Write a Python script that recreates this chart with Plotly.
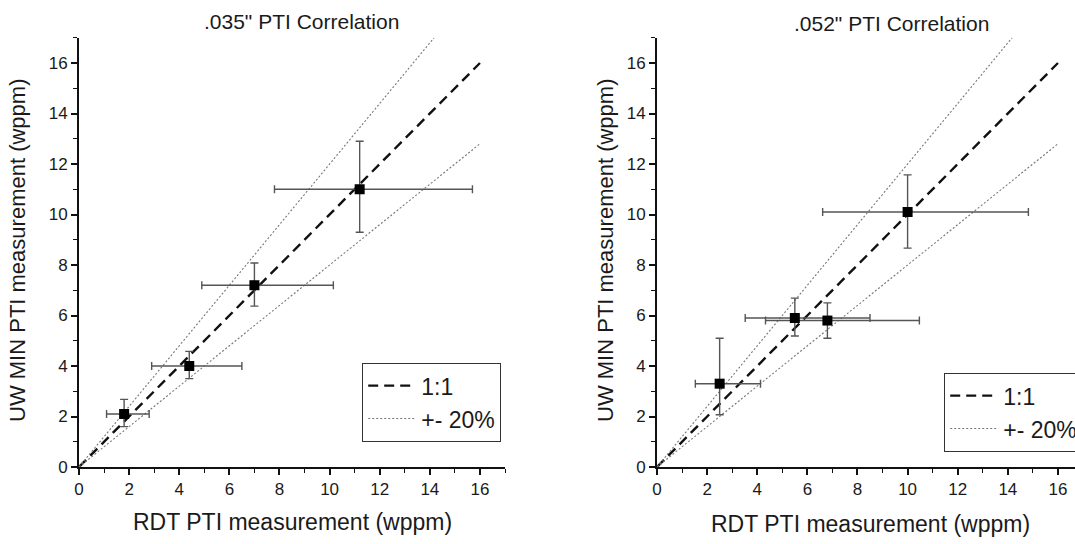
import plotly.graph_objects as go

# ---------------- data ----------------
left_title = '.035" PTI Correlation'
right_title = '.052" PTI Correlation'
x_title = "RDT PTI measurement (wppm)"
y_title = "UW MIN PTI measurement (wppm)"

left_x = [1.8, 4.4, 7.0, 11.2]
left_y = [2.1, 4.0, 7.2, 11.0]
left_x_minus = [0.7, 1.5, 2.1, 3.4]
left_x_plus = [1.0, 2.1, 3.15, 4.5]
left_y_minus = [0.5, 0.5, 0.83, 1.7]
left_y_plus = [0.58, 0.58, 0.88, 1.9]

right_x = [2.5, 5.5, 6.8, 10.0]
right_y = [3.3, 5.9, 5.8, 10.1]
right_x_minus = [0.97, 1.98, 2.47, 3.39]
right_x_plus = [1.63, 3.0, 3.67, 4.82]
right_y_minus = [1.23, 0.71, 0.7, 1.43]
right_y_plus = [1.8, 0.79, 0.7, 1.47]

one_x = [0, 16]
one_y = [0, 16]
plus20_x = [0, 14.17]
plus20_y = [0, 17]
minus20_x = [0, 16]
minus20_y = [0, 12.8]

tick_vals = [0, 2, 4, 6, 8, 10, 12, 14, 16]
tick_text = ["0", "2", "4", "6", "8", "10", "12", "14", "16"]

# ---------------- figure ----------------
W, H = 1075, 544
FONT = "Arial, Liberation Sans, sans-serif"
TXT = "#1a1a1a"

fig = go.Figure()


def add_panel(xa, ya, px, py, xm, xp, ym, yp, legend_name):
    fig.add_trace(go.Scatter(
        x=one_x, y=one_y, mode="lines", name="1:1",
        line=dict(color="#111111", width=2.4, dash="10px,6px"),
        xaxis=xa, yaxis=ya, legend=legend_name, showlegend=True, hoverinfo="skip"))
    fig.add_trace(go.Scatter(
        x=plus20_x, y=plus20_y, mode="lines", name="+- 20%",
        line=dict(color="#777777", width=1.1, dash="2px,2px"),
        xaxis=xa, yaxis=ya, legend=legend_name, showlegend=True, hoverinfo="skip"))
    fig.add_trace(go.Scatter(
        x=minus20_x, y=minus20_y, mode="lines", name="+- 20%",
        line=dict(color="#777777", width=1.1, dash="2px,2px"),
        xaxis=xa, yaxis=ya, legend=legend_name, showlegend=False, hoverinfo="skip"))
    fig.add_trace(go.Scatter(
        x=px, y=py, mode="markers", name="data",
        marker=dict(symbol="square", size=10, color="black"),
        error_x=dict(type="data", symmetric=False, array=xp, arrayminus=xm,
                     color="#555555", thickness=1.4, width=4),
        error_y=dict(type="data", symmetric=False, array=yp, arrayminus=ym,
                     color="#555555", thickness=1.4, width=4),
        xaxis=xa, yaxis=ya, showlegend=False))


add_panel("x", "y", left_x, left_y, left_x_minus, left_x_plus,
          left_y_minus, left_y_plus, "legend")
add_panel("x2", "y2", right_x, right_y, right_x_minus, right_x_plus,
          right_y_minus, right_y_plus, "legend2")

unit = 25.06
x0_left, x0_right = 79, 657
y0_pix, y_unit = 467, 25.25
ydom = [(H - y0_pix) / H, (H - (y0_pix - 17 * y_unit)) / H]

axis_common = dict(
    showgrid=False, zeroline=False, showline=True, linecolor="#111111",
    linewidth=2, ticks="outside", ticklen=6, tickwidth=1.6, tickcolor="#111111",
    tickvals=tick_vals, ticktext=tick_text,
    tickfont=dict(family=FONT, size=17, color=TXT),
    minor=dict(dtick=1, tick0=0, ticks="outside", ticklen=4, tickwidth=1.3,
               tickcolor="#111111", showgrid=False),
)

legend_common = dict(xanchor="left", yanchor="top",
                     bgcolor="white", bordercolor="#333333", borderwidth=1.2,
                     font=dict(family=FONT, size=23, color=TXT), itemwidth=48,
                     tracegroupgap=0)

fig.update_layout(
    width=W, height=H,
    margin=dict(l=0, r=0, t=0, b=0, autoexpand=False),
    paper_bgcolor="white", plot_bgcolor="white",
    font=dict(family=FONT, color=TXT),
    xaxis=dict(domain=[x0_left / W, (x0_left + 17 * unit) / W], range=[0, 17],
               anchor="y", **axis_common),
    yaxis=dict(domain=ydom, range=[0, 17], anchor="x", **axis_common),
    xaxis2=dict(domain=[x0_right / W, 1.0], range=[0, (W - x0_right) / unit],
                anchor="y2", **axis_common),
    yaxis2=dict(domain=ydom, range=[0, 17], anchor="x2", **axis_common),
    legend=dict(x=362 / W, y=1 - 363 / H, **legend_common),
    legend2=dict(x=944 / W, y=1 - 373 / H, **legend_common),
    showlegend=True,
)


def ann(text, px, py, size, angle=0):
    fig.add_annotation(text=text, xref="paper", yref="paper",
                       x=px / W, y=1 - py / H, xanchor="center", yanchor="middle",
                       showarrow=False, textangle=angle,
                       font=dict(family=FONT, size=size, color=TXT))


ann(left_title, 301, 22, 21)
ann(right_title, 891, 24, 21)
ann(x_title, 292, 522, 23)
ann(x_title, 870, 524, 23)
ann(y_title, 18, 250, 22, -90)
ann(y_title, 606, 250, 22, -90)

fig.write_html("out.html")
